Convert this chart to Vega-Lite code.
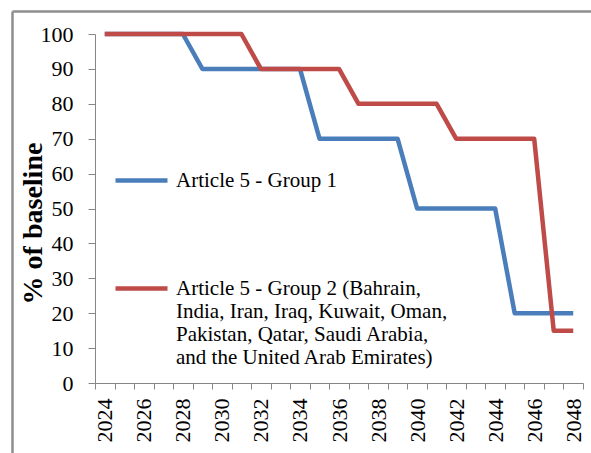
{
  "$schema": "https://vega.github.io/schema/vega-lite/v6.json",
  "width": 488,
  "height": 349,
  "autosize": {"type": "none"},
  "padding": {"left": 95, "top": 34, "right": 8, "bottom": 70},
  "config": {
    "view": {"stroke": null},
    "font": "Liberation Serif",
    "axis": {"grid": false, "domainColor": "#868686", "tickColor": "#868686", "labelColor": "#000000", "titleColor": "#000000", "labelFont": "Liberation Serif", "titleFont": "Liberation Serif"},
    "legend": {"labelFont": "Liberation Serif"}
  },
  "data": {
    "values": [
      {"year": 2024, "value": 100, "series": "Article 5 - Group 1"},
      {"year": 2025, "value": 100, "series": "Article 5 - Group 1"},
      {"year": 2026, "value": 100, "series": "Article 5 - Group 1"},
      {"year": 2027, "value": 100, "series": "Article 5 - Group 1"},
      {"year": 2028, "value": 100, "series": "Article 5 - Group 1"},
      {"year": 2029, "value": 90, "series": "Article 5 - Group 1"},
      {"year": 2030, "value": 90, "series": "Article 5 - Group 1"},
      {"year": 2031, "value": 90, "series": "Article 5 - Group 1"},
      {"year": 2032, "value": 90, "series": "Article 5 - Group 1"},
      {"year": 2033, "value": 90, "series": "Article 5 - Group 1"},
      {"year": 2034, "value": 90, "series": "Article 5 - Group 1"},
      {"year": 2035, "value": 70, "series": "Article 5 - Group 1"},
      {"year": 2036, "value": 70, "series": "Article 5 - Group 1"},
      {"year": 2037, "value": 70, "series": "Article 5 - Group 1"},
      {"year": 2038, "value": 70, "series": "Article 5 - Group 1"},
      {"year": 2039, "value": 70, "series": "Article 5 - Group 1"},
      {"year": 2040, "value": 50, "series": "Article 5 - Group 1"},
      {"year": 2041, "value": 50, "series": "Article 5 - Group 1"},
      {"year": 2042, "value": 50, "series": "Article 5 - Group 1"},
      {"year": 2043, "value": 50, "series": "Article 5 - Group 1"},
      {"year": 2044, "value": 50, "series": "Article 5 - Group 1"},
      {"year": 2045, "value": 20, "series": "Article 5 - Group 1"},
      {"year": 2046, "value": 20, "series": "Article 5 - Group 1"},
      {"year": 2047, "value": 20, "series": "Article 5 - Group 1"},
      {"year": 2048, "value": 20, "series": "Article 5 - Group 1"},
      {"year": 2024, "value": 100, "series": "Article 5 - Group 2"},
      {"year": 2025, "value": 100, "series": "Article 5 - Group 2"},
      {"year": 2026, "value": 100, "series": "Article 5 - Group 2"},
      {"year": 2027, "value": 100, "series": "Article 5 - Group 2"},
      {"year": 2028, "value": 100, "series": "Article 5 - Group 2"},
      {"year": 2029, "value": 100, "series": "Article 5 - Group 2"},
      {"year": 2030, "value": 100, "series": "Article 5 - Group 2"},
      {"year": 2031, "value": 100, "series": "Article 5 - Group 2"},
      {"year": 2032, "value": 90, "series": "Article 5 - Group 2"},
      {"year": 2033, "value": 90, "series": "Article 5 - Group 2"},
      {"year": 2034, "value": 90, "series": "Article 5 - Group 2"},
      {"year": 2035, "value": 90, "series": "Article 5 - Group 2"},
      {"year": 2036, "value": 90, "series": "Article 5 - Group 2"},
      {"year": 2037, "value": 80, "series": "Article 5 - Group 2"},
      {"year": 2038, "value": 80, "series": "Article 5 - Group 2"},
      {"year": 2039, "value": 80, "series": "Article 5 - Group 2"},
      {"year": 2040, "value": 80, "series": "Article 5 - Group 2"},
      {"year": 2041, "value": 80, "series": "Article 5 - Group 2"},
      {"year": 2042, "value": 70, "series": "Article 5 - Group 2"},
      {"year": 2043, "value": 70, "series": "Article 5 - Group 2"},
      {"year": 2044, "value": 70, "series": "Article 5 - Group 2"},
      {"year": 2045, "value": 70, "series": "Article 5 - Group 2"},
      {"year": 2046, "value": 70, "series": "Article 5 - Group 2"},
      {"year": 2047, "value": 15, "series": "Article 5 - Group 2"},
      {"year": 2048, "value": 15, "series": "Article 5 - Group 2"}
    ]
  },
  "layer": [
    {
      "mark": {"type": "line", "strokeWidth": 4.5, "strokeJoin": "round", "strokeCap": "butt"},
      "encoding": {
        "x": {
          "field": "year",
          "type": "quantitative",
          "scale": {"domain": [2023.5, 2048.5], "nice": false, "zero": false},
          "axis": {
            "orient": "bottom",
            "title": null,
            "values": [2023.5, 2024.5, 2025.5, 2026.5, 2027.5, 2028.5, 2029.5, 2030.5, 2031.5, 2032.5, 2033.5, 2034.5, 2035.5, 2036.5, 2037.5, 2038.5, 2039.5, 2040.5, 2041.5, 2042.5, 2043.5, 2044.5, 2045.5, 2046.5, 2047.5, 2048.5],
            "labelExpr": "(datum.value + 0.5) % 2 == 0 && datum.value < 2048 ? format(datum.value + 0.5, 'd') : ''",
            "labelOffset": 9.76,
            "labelAngle": -90,
            "labelAlign": "right",
            "labelBaseline": "middle",
            "labelFont": "Liberation Serif",
            "labelFontSize": 22,
            "labelColor": "#000000",
            "labelPadding": 9,
            "labelOverlap": false,
            "labelFlush": false,
            "tickSize": 6
          }
        },
        "y": {
          "field": "value",
          "type": "quantitative",
          "scale": {"domain": [0, 100], "nice": false},
          "axis": {
            "orient": "left",
            "values": [0, 10, 20, 30, 40, 50, 60, 70, 80, 90, 100],
            "title": "% of baseline",
            "titleFont": "Liberation Serif",
            "titleFontSize": 28,
            "titleFontWeight": "bold",
            "titleAngle": -90,
            "titleX": -62,
            "titleY": 189,
            "titleBaseline": "middle",
            "titleAlign": "center",
            "labelFont": "Liberation Serif",
            "labelFontSize": 22,
            "labelColor": "#000000",
            "labelPadding": 15,
            "tickSize": 7
          }
        },
        "color": {
          "field": "series",
          "type": "nominal",
          "scale": {"domain": ["Article 5 - Group 1", "Article 5 - Group 2"], "range": ["#4A7EBB", "#BE4B48"]},
          "legend": {
            "title": null,
            "orient": "none",
            "legendX": 18,
            "legendY": 118,
            "padding": 0,
            "symbolType": "stroke",
            "symbolSize": 2704,
            "symbolStrokeWidth": 4.5,
            "labelFont": "Liberation Serif",
            "labelFontSize": 21,
            "labelColor": "#000000",
            "labelLimit": 500,
            "labelOffset": 6,
            "rowPadding": 69,
            "labelBaseline": "middle",
            "labelExpr": "datum.label == 'Article 5 - Group 2' ? ['Article 5 - Group 2 (Bahrain,', 'India, Iran, Iraq, Kuwait, Oman,', 'Pakistan, Qatar, Saudi Arabia,', 'and the United Arab Emirates)'] : datum.label"
          }
        }
      }
    },
    {
      "mark": {"type": "line", "opacity": 0},
      "encoding": {
        "x": {
          "field": "year",
          "type": "quantitative",
          "scale": {"domain": [2023.5, 2048.5], "nice": false, "zero": false, "range": [-83, 496]},
          "axis": {"orient": "top", "offset": 23, "title": null, "labels": false, "ticks": false, "domainColor": "#8E8E8E", "domainWidth": 2.5}
        },
        "y": {
          "field": "value",
          "type": "quantitative",
          "scale": {"domain": [0, 100], "nice": false, "range": [419, -23]},
          "axis": {"orient": "left", "offset": 83, "title": null, "labels": false, "ticks": false, "domainColor": "#8E8E8E", "domainWidth": 2.5}
        },
        "detail": {"field": "series"}
      }
    }
  ],
  "resolve": {
    "scale": {"x": "independent", "y": "independent"},
    "axis": {"x": "independent", "y": "independent"}
  }
}
